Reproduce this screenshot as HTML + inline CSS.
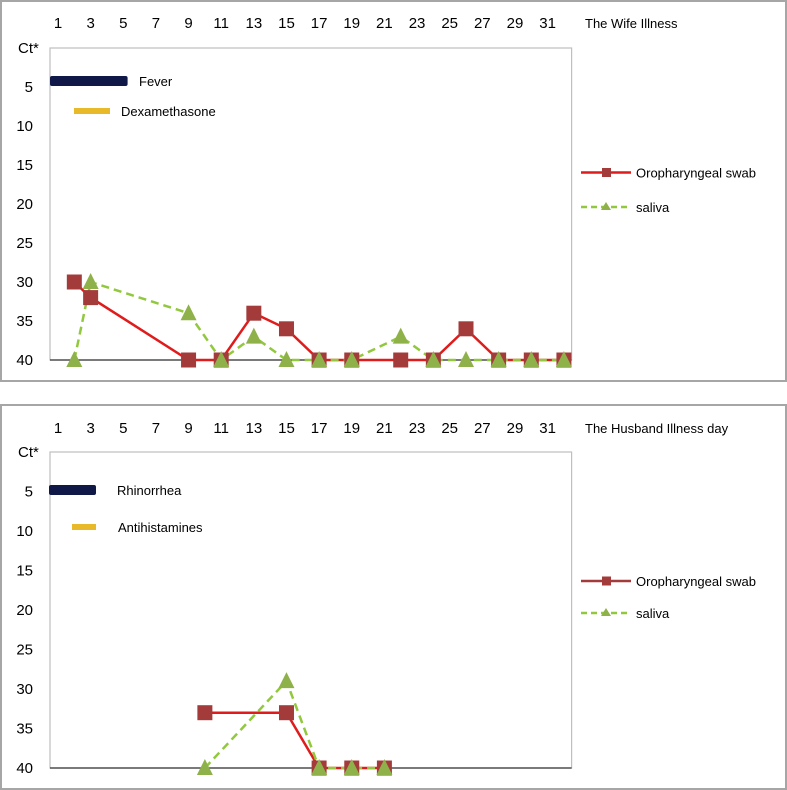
<!DOCTYPE html>
<html><head><meta charset="utf-8"><style>
body{margin:0;background:#fff;}
svg{display:block;font-family:"Liberation Sans",sans-serif;}
</style></head><body>
<svg id="c" width="787" height="790"></svg>
<script>
const dayTicks=[1,3,5,7,9,11,13,15,17,19,21,23,25,27,29,31];
const ctTicks=[5,10,15,20,25,30,35,40];
const wifeDays=[2,3,9,11,13,15,17,19,22,24,26,28,30,32];
const wifeSwab=[30,32,40,40,34,36,40,40,40,40,36,40,40,40];
const wifeSaliva=[40,30,34,40,37,40,40,40,37,40,40,40,40,40];
const husbandDays=[10,15,17,19,21];
const husbandSwab=[33,33,40,40,40];
const husbandSaliva=[40,29,40,40,40];

const NS='http://www.w3.org/2000/svg';
const svg=document.getElementById('c');
function mk(tag,attrs,parent){const e=document.createElementNS(NS,tag);for(const k in attrs)e.setAttribute(k,attrs[k]);(parent||svg).appendChild(e);return e;}
function txt(s,attrs,parent){const e=mk('text',attrs,parent);e.textContent=s;return e;}

function panel(cfg){
  const g=mk('g',{});
  
  
  const b=mk('rect',{x:1,y:cfg.boxTop,width:785,height:cfg.boxH,fill:'none',stroke:'#a6a6a6','stroke-width':2},g);
  
  
  const L=50,R=571.6,T=cfg.top,B=cfg.bottom;
  const x=d=>58+(d-1)*16.32;
  const y=v=>T+(B-T)*v/40;
  const pa=mk('rect',{x:L,y:T,width:R-L,height:B-T,fill:'#fff',stroke:'#bfbfbf','stroke-width':1.2},g);
  
  
  const ax=mk('line',{x1:L,y1:B,x2:R,y2:B,stroke:'#333','stroke-width':1.2},g);
  
  
  dayTicks.forEach(d=>{const t=txt(String(d),{x:x(d),y:cfg.tickY,'text-anchor':'middle','font-size':15,fill:'#000'},g);
    
    });
  ctTicks.forEach(v=>{const t=txt(String(v),{x:33,y:y(v)+5,'text-anchor':'end','font-size':15,fill:'#000'},g);
    
    });
  const ct=txt('Ct*',{x:18,y:T+5,'font-size':15,fill:'#000'},g);
  
  
  const ti=txt(cfg.title,{x:585,y:cfg.tickY,'font-size':13,fill:'#000'},g);
  
  
  const s1=mk('rect',{x:cfg.bar1[0],y:cfg.bar1[2]-5,width:cfg.bar1[1]-cfg.bar1[0],height:10,rx:2,fill:'#101848'},g);
  
  
  const s1t=txt(cfg.bar1[3],{x:cfg.bar1[4],y:cfg.bar1[2]+5,'font-size':13,fill:'#000'},g);
  
  
  const s2=mk('rect',{x:cfg.bar2[0],y:cfg.bar2[2]-3,width:cfg.bar2[1]-cfg.bar2[0],height:6,fill:'#e8b928'},g);
  
  
  const s2t=txt(cfg.bar2[3],{x:cfg.bar2[4],y:cfg.bar2[2]+5,'font-size':13,fill:'#000'},g);
  
  
  const days=cfg.days;
  const p1=mk('polyline',{points:days.map((d,i)=>x(d)+','+y(cfg.swab[i])).join(' '),fill:'none',stroke:'#e01b1b','stroke-width':2.5},g);
  
  
  const p2=mk('polyline',{points:days.map((d,i)=>x(d)+','+y(cfg.saliva[i])).join(' '),fill:'none',stroke:'#92c83e','stroke-width':2.5,'stroke-dasharray':'8,5'},g);
  
  
  days.forEach((d,i)=>{const m=mk('rect',{x:x(d)-7.5,y:y(cfg.swab[i])-7.5,width:15,height:15,fill:'#a33b3b'},g);
    
    });
  days.forEach((d,i)=>{const cx=x(d),cy=y(cfg.saliva[i]);
    const m=mk('polygon',{points:(cx)+','+(cy-9)+' '+(cx-8)+','+(cy+7)+' '+(cx+8)+','+(cy+7),fill:'#8fb14a'},g);
    
    });
  const lg=mk('g',{},g);
  
  
  const ly1=cfg.leg1,ly2=cfg.leg2;
  mk('line',{x1:581,y1:ly1,x2:631,y2:ly1,stroke:cfg.legColor,'stroke-width':2.5},lg);
  mk('rect',{x:602,y:ly1-4.5,width:9,height:9,fill:'#a33b3b'},lg);
  const lt1=txt('Oropharyngeal swab',{x:636,y:ly1+5,'font-size':13,fill:'#000'},lg);
  
  
  mk('line',{x1:581,y1:ly2,x2:631,y2:ly2,stroke:'#92c83e','stroke-width':2.5,'stroke-dasharray':'6,4'},lg);
  mk('polygon',{points:'606,'+(ly2-5)+' 601,'+(ly2+3)+' 611,'+(ly2+3),fill:'#8fb14a'},lg);
  const lt2=txt('saliva',{x:636,y:ly2+5,'font-size':13,fill:'#000'},lg);
  
  
}

panel({name:'wife-panel',boxTop:1,boxH:380,top:48,bottom:360,tickY:28,title:'The Wife Illness',
  bar1:[50,127.6,81,'Fever',139],bar2:[74,110,111,'Dexamethasone',121],
  days:wifeDays,swab:wifeSwab,saliva:wifeSaliva,leg1:172.5,leg2:207,legColor:'#e01b1b'});
panel({name:'husband-panel',boxTop:405,boxH:384,top:452,bottom:768,tickY:433,title:'The Husband Illness day',
  bar1:[49,96,490,'Rhinorrhea',117],bar2:[72,96,527,'Antihistamines',118],
  days:husbandDays,swab:husbandSwab,saliva:husbandSaliva,leg1:581,leg2:613,legColor:'#a33b3b'});
</script>
</body></html>
